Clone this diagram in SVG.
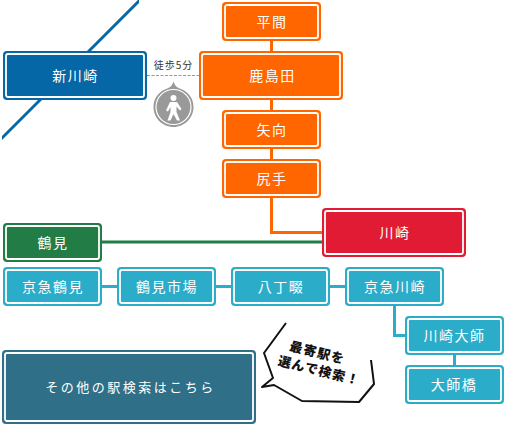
<svg xmlns="http://www.w3.org/2000/svg" width="505" height="426" viewBox="0 0 505 426">
<style>
text{font-family:"Noto Sans CJK JP","Noto Sans",sans-serif;text-anchor:middle;}
.n text{fill:#fff;font-size:14px;letter-spacing:1.500px;}
.line{fill:none;stroke-width:3;}
.i{stroke:#fff;stroke-width:1.800;}
.orange{fill:#ff6600;} .blue{fill:#0667a6;} .green{fill:#217d45;} .red{fill:#e01b33;} .teal{fill:#2bacc9;} .slate{fill:#2f6f88;}
.co{font-size:13px;font-weight:900;letter-spacing:1.100px;fill:#111;}
</style>
<defs><clipPath id="lineclip"><rect x="2" y="0" width="137" height="142"/></clipPath></defs>
<g id="connectors">
<path class="line" stroke="#0667a6" clip-path="url(#lineclip)" d="M141 -1L-1 141"/>
<path class="line" stroke="#ff6600" d="M271.500 40V52M271.500 99V111M271.500 148V160M271.500 197V232.500H323"/>
<path class="line" stroke="#217d45" d="M101 242H323"/>
<path class="line" stroke="#2bacc9" d="M101 286.500H118M215 286.500H232M329 286.500H346M394.500 305V335.500H406M454.500 354V366"/>
<path fill="none" stroke="#999" stroke-width="1" stroke-dasharray="3 1.500" d="M147 75.500H199"/>
</g>
<g id="shinkawasaki" class="n"><rect class="blue" x="3" y="51" width="144" height="49" rx="4"/><rect class="blue i" x="6" y="54" width="138" height="43" rx="2"/><text x="75.500" y="81">新川崎</text></g>
<g id="hirama" class="n"><rect class="orange" x="222" y="2" width="99" height="39" rx="4"/><rect class="orange i" x="225" y="5" width="93" height="33" rx="2"/><text x="272" y="27">平間</text></g>
<g id="kashimada" class="n"><rect class="orange" x="199" y="51" width="144" height="49" rx="4"/><rect class="orange i" x="202" y="54" width="138" height="43" rx="2"/><text x="272.500" y="81">鹿島田</text></g>
<g id="yako" class="n"><rect class="orange" x="222" y="110" width="99" height="39" rx="4"/><rect class="orange i" x="225" y="113" width="93" height="33" rx="2"/><text x="272" y="135">矢向</text></g>
<g id="shitte" class="n"><rect class="orange" x="222" y="159" width="99" height="39" rx="4"/><rect class="orange i" x="225" y="162" width="93" height="33" rx="2"/><text x="272" y="184">尻手</text></g>
<g id="kawasaki" class="n"><rect class="red" x="322" y="208" width="144" height="49" rx="4"/><rect class="red i" x="325" y="211" width="138" height="43" rx="2"/><text x="395" y="238">川崎</text></g>
<g id="tsurumi" class="n"><rect class="green" x="3" y="223" width="99" height="39" rx="4"/><rect class="green i" x="6" y="226" width="93" height="33" rx="2"/><text x="53" y="248">鶴見</text></g>
<g id="keikyu-tsurumi" class="n"><rect class="teal" x="3" y="267" width="99" height="39" rx="4"/><rect class="teal i" x="6" y="270" width="93" height="33" rx="2"/><text x="53" y="292">京急鶴見</text></g>
<g id="tsurumi-ichiba" class="n"><rect class="teal" x="117" y="267" width="99" height="39" rx="4"/><rect class="teal i" x="120" y="270" width="93" height="33" rx="2"/><text x="167" y="292">鶴見市場</text></g>
<g id="hatchonawate" class="n"><rect class="teal" x="231" y="267" width="99" height="39" rx="4"/><rect class="teal i" x="234" y="270" width="93" height="33" rx="2"/><text x="281" y="292">八丁畷</text></g>
<g id="keikyu-kawasaki" class="n"><rect class="teal" x="345" y="267" width="99" height="39" rx="4"/><rect class="teal i" x="348" y="270" width="93" height="33" rx="2"/><text x="395" y="292">京急川崎</text></g>
<g id="kawasaki-daishi" class="n"><rect class="teal" x="405" y="316" width="99" height="39" rx="4"/><rect class="teal i" x="408" y="319" width="93" height="33" rx="2"/><text x="454.500" y="341">川崎大師</text></g>
<g id="daishibashi" class="n"><rect class="teal" x="405" y="365" width="99" height="39" rx="4"/><rect class="teal i" x="408" y="368" width="93" height="33" rx="2"/><text x="454" y="390">大師橋</text></g>
<g id="other" class="n"><rect class="slate" x="2" y="350" width="254" height="74" rx="4"/><rect class="slate i" x="5" y="353" width="248" height="68" rx="2"/><text x="130.500" y="392" style="font-size:13px;letter-spacing:2.500px">その他の駅検索はこちら</text></g>
<g id="walk">
<text x="173.500" y="69" style="font-size:10px;letter-spacing:1px;fill:#333">徒歩5分</text>
<path fill="#999" d="M173.500 81.500C175 86 177 87.500 181 89C189 92 193.500 99 193.500 107C193.500 118 184.500 127 173.500 127C162.500 127 153.500 118 153.500 107C153.500 99 158 92 166 89C170 87.500 172 86 173.500 81.500Z"/>
<circle cx="173.500" cy="107" r="17.500" fill="#999" stroke="#fff" stroke-width="1.200"/>
<circle cx="173.500" cy="98" r="3" fill="#fff"/>
<path fill="#fff" d="M170 102H177L181.500 109L180 110.500L176.500 106.500V112L180 120.500H177L173.500 114L170.500 120.500H167.500L170.500 112V107L168 111.500L166 110.500Z"/>
</g>
<g id="callout">
<path fill="#fff" stroke="#111" stroke-width="2" stroke-linejoin="round" d="M286 323L264 353L273 378L262 387L274 385L302 401L359 402L374 384L371 360"/>
<g transform="rotate(14 315 362)">
<text x="315" y="357" class="co">最寄駅を</text>
<text x="321" y="374" class="co">選んで検索！</text>
</g>
</g>
</svg>
